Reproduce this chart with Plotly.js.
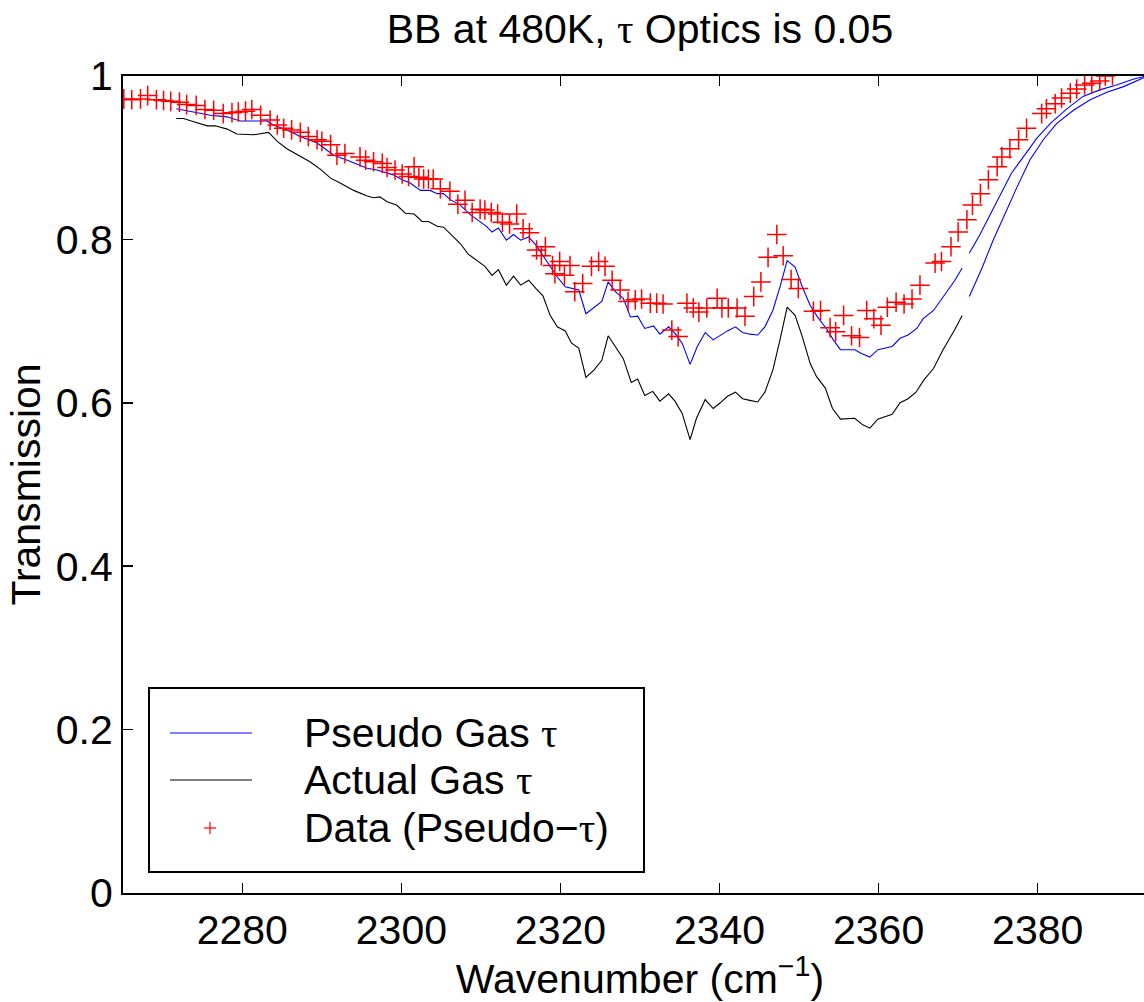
<!DOCTYPE html>
<html><head><meta charset="utf-8">
<script src="https://cdn.plot.ly/plotly-3.0.1.min.js"></script>
<style>html,body{margin:0;padding:0;overflow:hidden;background:#fff;width:1144px;height:1002px}#chart{width:1160px;height:1002px}</style>
</head><body><div id="chart"></div>
<script>
// Pseudo Gas tau (blue), with a gap near 2371
const pseudoWn = [2271.7,2273.9,2276.0,2278.1,2279.7,2283.1,2283.9,2285.6,2287.3,2289.4,2291.5,2293.2,2295.7,2296.9,2299.0,2300.1,2301.1,2302.4,2303.6,2304.5,2305.3,2306.1,2307.4,2308.7,2309.9,2310.7,2311.4,2312.2,2313.2,2314.1,2315.0,2316.0,2317.0,2317.9,2318.7,2319.6,2320.6,2321.4,2322.3,2323.2,2324.2,2325.2,2326.0,2326.9,2327.9,2328.8,2329.7,2330.6,2331.7,2332.5,2333.6,2334.4,2335.3,2336.3,2337.2,2338.2,2339.2,2340.1,2341.0,2342.0,2342.9,2343.8,2344.8,2345.7,2346.7,2347.6,2348.5,2349.5,2350.4,2351.4,2352.4,2353.5,2354.3,2355.2,2357.0,2357.9,2358.9,2359.9,2361.7,2362.7,2363.7,2364.8,2365.6,2366.9,2368.1,2369.6,2370.5,2371.0,2371.4,2372.8,2374.0,2375.3,2376.7,2378.2,2379.9,2381.6,2383.7,2385.7,2387.8,2389.9,2392.0,2393.6];
const pseudoT = [0.960,0.956,0.952,0.950,0.945,0.945,0.940,0.934,0.926,0.918,0.903,0.897,0.887,0.885,0.879,0.873,0.869,0.860,0.860,0.856,0.856,0.849,0.842,0.830,0.822,0.816,0.809,0.814,0.799,0.806,0.799,0.803,0.792,0.779,0.767,0.754,0.742,0.740,0.738,0.709,0.716,0.724,0.748,0.736,0.728,0.705,0.706,0.691,0.694,0.684,0.693,0.685,0.673,0.647,0.669,0.686,0.677,0.683,0.688,0.693,0.686,0.684,0.683,0.693,0.713,0.742,0.774,0.766,0.742,0.719,0.704,0.690,0.677,0.665,0.665,0.660,0.656,0.665,0.669,0.679,0.683,0.691,0.703,0.713,0.730,0.750,0.765,null,0.783,0.807,0.830,0.854,0.881,0.901,0.924,0.942,0.960,0.975,0.983,0.989,0.996,1.000];

// Actual Gas tau (black part)
const actualWn = [2271.7,2272.6,2273.9,2275.6,2276.6,2278.1,2279.3,2281.4,2283.3,2284.4,2285.6,2287.3,2288.5,2289.8,2291.1,2292.3,2294.0,2295.7,2296.5,2297.3,2298.2,2299.4,2300.5,2301.6,2302.6,2303.4,2304.5,2305.3,2306.4,2307.4,2308.4,2309.7,2310.5,2311.4,2312.2,2313.2,2314.1,2315.0,2316.0,2316.9,2317.8,2318.7,2319.6,2320.6,2321.4,2322.3,2323.2,2324.2,2325.2,2326.0,2327.0,2327.9,2328.9,2329.7,2330.6,2331.6,2332.5,2333.6,2334.4,2335.3,2336.3,2337.1,2338.2,2339.2,2340.1,2341.0,2342.0,2342.9,2343.8,2344.8,2345.7,2346.7,2347.6,2348.5,2349.5,2350.4,2351.4,2352.2,2353.3,2354.2,2355.2,2357.0,2358.0,2358.9,2359.9,2361.7,2362.7,2363.7,2364.7,2365.7,2366.9,2368.1,2369.6,2370.5];
const actualT = [0.948,0.948,0.944,0.939,0.939,0.935,0.929,0.928,0.931,0.920,0.911,0.901,0.895,0.886,0.875,0.869,0.860,0.853,0.851,0.852,0.846,0.842,0.832,0.831,0.822,0.822,0.816,0.815,0.805,0.795,0.782,0.773,0.767,0.756,0.763,0.744,0.755,0.744,0.750,0.740,0.731,0.707,0.693,0.688,0.673,0.667,0.631,0.640,0.652,0.682,0.667,0.654,0.625,0.629,0.609,0.614,0.602,0.611,0.602,0.587,0.555,0.581,0.604,0.593,0.600,0.608,0.613,0.605,0.603,0.601,0.613,0.640,0.677,0.717,0.707,0.681,0.648,0.632,0.618,0.593,0.580,0.581,0.573,0.569,0.580,0.586,0.600,0.605,0.613,0.628,0.642,0.665,0.690,0.707];

// Actual Gas tau, upper-wavenumber part (drawn blue in the original)
const actualRightWn = [2371.4,2373.0,2374.4,2375.9,2377.4,2379.0,2380.7,2382.4,2384.5,2386.6,2388.7,2390.8,2393.6];
const actualRightT = [0.730,0.765,0.799,0.832,0.864,0.897,0.922,0.942,0.958,0.971,0.980,0.987,0.999];

// Data (Pseudo-tau), red crosses
const dataWn = [2265.1,2266.1,2267.2,2268.1,2269.2,2270.1,2271.0,2272.1,2273.0,2274.2,2275.3,2276.4,2277.6,2278.7,2279.5,2280.4,2281.2,2282.3,2283.5,2284.4,2285.2,2286.2,2287.3,2288.3,2289.4,2290.0,2291.1,2291.9,2292.9,2294.8,2295.5,2296.5,2297.6,2298.2,2299.2,2300.1,2300.9,2301.6,2302.2,2302.8,2303.4,2304.0,2304.9,2306.1,2307.1,2308.0,2308.9,2309.9,2310.5,2311.3,2312.1,2312.7,2313.6,2314.5,2315.3,2316.1,2317.0,2317.6,2318.1,2319.0,2319.3,2319.9,2320.5,2321.2,2321.8,2322.8,2323.9,2324.8,2325.6,2326.5,2327.5,2328.5,2329.4,2330.2,2331.3,2332.1,2332.9,2334.0,2334.8,2335.9,2336.7,2337.4,2338.4,2339.7,2340.3,2341.1,2342.2,2343.2,2344.3,2345.2,2346.1,2347.2,2348.0,2349.0,2349.9,2351.8,2352.7,2353.9,2354.6,2355.6,2356.6,2357.6,2358.5,2359.4,2360.3,2361.1,2362.2,2363.2,2364.2,2365.2,2367.1,2367.9,2369.1,2370.0,2371.1,2371.8,2372.8,2373.8,2374.9,2375.5,2376.5,2377.6,2378.6,2380.5,2381.1,2382.2,2383.0,2384.1,2384.9,2385.9,2386.8,2387.8,2388.5,2389.4];
const dataT = [0.972,0.971,0.972,0.976,0.971,0.970,0.969,0.968,0.965,0.964,0.959,0.958,0.954,0.955,0.956,0.957,0.959,0.952,0.946,0.940,0.936,0.934,0.931,0.926,0.922,0.920,0.916,0.903,0.905,0.901,0.897,0.895,0.893,0.888,0.885,0.880,0.877,0.889,0.876,0.874,0.874,0.874,0.862,0.859,0.843,0.848,0.833,0.837,0.836,0.833,0.831,0.821,0.819,0.831,0.813,0.808,0.787,0.780,0.791,0.768,0.758,0.773,0.756,0.768,0.736,0.746,0.767,0.773,0.767,0.750,0.738,0.724,0.726,0.727,0.722,0.722,0.721,0.689,0.681,0.722,0.716,0.711,0.716,0.728,0.716,0.716,0.716,0.706,0.730,0.748,0.778,0.806,0.780,0.751,0.740,0.712,0.713,0.692,0.687,0.707,0.682,0.680,0.713,0.703,0.695,0.717,0.723,0.721,0.727,0.744,0.771,0.773,0.791,0.809,0.824,0.842,0.856,0.873,0.889,0.901,0.911,0.922,0.936,0.954,0.960,0.966,0.973,0.979,0.984,0.989,0.991,0.994,1.000,1.001];

const xTicks = [2280,2300,2320,2340,2360,2380];
const yTicks = [0,0.2,0.4,0.6,0.8,1];
const yTickText = ['0','0.2','0.4','0.6','0.8','1'];
const TAU = '<span style="font-family:Liberation Serif, DejaVu Serif, serif">τ</span>';
const seriesNames = ['Pseudo Gas ' + TAU, 'Actual Gas ' + TAU, 'Data (Pseudo−' + TAU + ')'];
const titleText = 'BB at 480K, ' + TAU + ' Optics is 0.05';

const FONT = 'Liberation Sans, Arial, Helvetica, sans-serif';
const FS = 41;
const W = 1160, H = 1002, ML = 123, MR = 3, MT = 76, MB = 109;
const PL = ML, PR = W - MR, PT = MT, PB = H - MB;
const px = x => (x - PL) / (PR - PL);
const py = y => (PB - y) / (PB - PT);

const traces = [
  {x: pseudoWn, y: pseudoT, type: 'scatter', mode: 'lines', name: 'Pseudo Gas τ', connectgaps: false,
   line: {color: '#0000ff', width: 1.1}, showlegend: false},
  {x: actualWn, y: actualT, type: 'scatter', mode: 'lines', name: 'Actual Gas τ',
   line: {color: '#000000', width: 1.1}, showlegend: false},
  {x: actualRightWn, y: actualRightT, type: 'scatter', mode: 'lines', name: 'Actual Gas τ (cont.)',
   line: {color: '#0000ff', width: 1.1}, showlegend: false},
  {x: dataWn, y: dataT, type: 'scatter', mode: 'markers', name: 'Data (Pseudo−τ)',
   marker: {symbol: 'cross-thin', size: 14, color: '#ff0000', line: {color: '#ff0000', width: 1.5}}, showlegend: false}
];

// manual legend (box, line samples, marker sample, labels)
const legBox = {x0: 149, x1: 644, y0: 688, y1: 872};
const rowsY = [733, 780, 828];
const shapes = [
  {type: 'rect', xref: 'paper', yref: 'paper', x0: px(legBox.x0), x1: px(legBox.x1), y0: py(legBox.y1), y1: py(legBox.y0),
   line: {color: '#000', width: 2}, fillcolor: '#fff', layer: 'above'},
  {type: 'line', xref: 'paper', yref: 'paper', x0: px(170), x1: px(252), y0: py(rowsY[0]), y1: py(rowsY[0]), line: {color: '#0000ff', width: 1.1}},
  {type: 'line', xref: 'paper', yref: 'paper', x0: px(170), x1: px(252), y0: py(rowsY[1]), y1: py(rowsY[1]), line: {color: '#000', width: 1.1}},
  {type: 'line', xref: 'paper', yref: 'paper', x0: px(204), x1: px(216), y0: py(rowsY[2]), y1: py(rowsY[2]), line: {color: '#ff0000', width: 1.2}},
  {type: 'line', xref: 'paper', yref: 'paper', x0: px(210), x1: px(210), y0: py(rowsY[2] - 6), y1: py(rowsY[2] + 6), line: {color: '#ff0000', width: 1.2}}
];
const annotations = seriesNames.map((t, i) => ({
  text: t, xref: 'paper', yref: 'paper', x: px(302), y: py(rowsY[i]), xanchor: 'left', yanchor: 'middle',
  showarrow: false, font: {family: FONT, size: FS, color: '#000'}
}));

const axisCommon = {
  showline: true, linecolor: '#000', linewidth: 2, mirror: 'allticks',
  ticks: 'inside', ticklen: 10, tickwidth: 1.5, tickcolor: '#000',
  showgrid: false, zeroline: false,
  tickfont: {family: FONT, size: FS, color: '#000'}
};

const layout = {
  width: W, height: H,
  margin: {l: ML, r: MR, t: MT, b: MB, pad: 0},
  paper_bgcolor: '#fff', plot_bgcolor: '#fff',
  font: {family: FONT, color: '#000'},
  title: {text: titleText, font: {family: FONT, size: FS, color: '#000'}, xref: 'paper', x: 0.5, xanchor: 'center',
          yref: 'container', y: 1 - 29 / H, yanchor: 'middle'},
  xaxis: Object.assign({}, axisCommon, {range: [2265, 2395], tickvals: xTicks, ticktext: xTicks.map(String),
          title: {text: 'Wavenumber (cm<sup>−1</sup>)', font: {family: FONT, size: FS, color: '#000'}, standoff: 4}}),
  yaxis: Object.assign({}, axisCommon, {range: [0, 1], tickvals: yTicks, ticktext: yTickText,
          title: {text: 'Transmission', font: {family: FONT, size: FS, color: '#000'}, standoff: 2}}),
  shapes: shapes,
  annotations: annotations,
  showlegend: false
};

Plotly.newPlot('chart', traces, layout, {displayModeBar: false, responsive: false, staticPlot: true});
</script>
</body></html>
